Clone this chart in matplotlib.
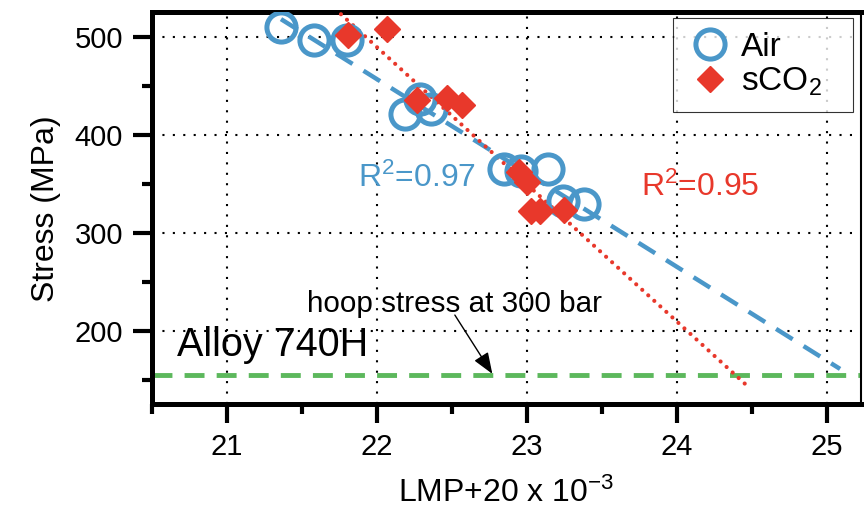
import matplotlib
matplotlib.use("Agg")
import matplotlib.pyplot as plt
import numpy as np

plt.rcParams['font.family'] = ['Liberation Sans', 'DejaVu Sans']
plt.rcParams['mathtext.fontset'] = 'custom'
plt.rcParams['mathtext.rm'] = 'Liberation Sans'
plt.rcParams['mathtext.it'] = 'Liberation Sans:italic'
plt.rcParams['mathtext.bf'] = 'Liberation Sans:bold'

# Data
air_x = [21.36, 21.58, 21.80, 22.19, 22.29, 22.36, 22.85, 22.96, 23.14, 23.24, 23.38]
air_y = [510, 497, 497, 421, 436, 426, 365, 363, 365, 332, 329]
sco2_x = [21.81, 22.07, 22.27, 22.47, 22.57, 22.95, 23.00, 23.03, 23.09, 23.25]
sco2_y = [502, 508, 435, 437, 430, 362, 352, 322, 322, 323]

air_fit_x = [21.36, 25.09]
air_fit_y = [518, 161]
sco2_fit_x = [21.76, 24.49]
sco2_fit_y = [523, 141]

hoop_stress = 155
xticks = [21, 22, 23, 24, 25]
yticks = [200, 300, 400, 500]

blue = '#4a97c9'
red = '#e8382b'
green = '#5cb85c'

fig = plt.figure(figsize=(8.64, 5.11), dpi=100)
ax = fig.add_axes([0.176, 0.209, 0.8206, 0.767])

ax.axhline(hoop_stress, color=green, lw=3.5, ls=(0, (4.1, 2.5)), zorder=2)
ax.plot(air_fit_x, air_fit_y, color=blue, lw=3.2, ls=(0, (4.4, 2.9)), zorder=3)
ax.plot(sco2_fit_x, sco2_fit_y, color=red, lw=3.0, ls=(0, (0.01, 1.95)),
        dash_capstyle='round', zorder=3)

ax.plot(air_x, air_y, 'o', ms=21, mfc='none', mec=blue, mew=3.6, zorder=4, label='Air')
ax.plot(sco2_x, sco2_y, 'D', ms=13.5, color=red, mec=red, zorder=5, label='sCO$_2$')

ax.set_xlim(20.5, 25.23)
ax.set_ylim(125, 525)
ax.set_xticks(xticks)
ax.set_yticks(yticks)
ax.set_xticks([20.5, 21.5, 22.5, 23.5, 24.5], minor=True)
ax.set_yticks([150, 250, 350, 450], minor=True)
ax.grid(True, which='major', color='black', ls=(0, (1, 4)), lw=1.5)

ax.tick_params(axis='both', which='major', direction='out', length=14, width=3,
               labelsize=21, pad=7)
ax.tick_params(axis='both', which='minor', direction='out', length=7, width=3)
ax.tick_params(top=False, right=False, which='both')

for s in ['left', 'bottom', 'top']:
    ax.spines[s].set_linewidth(3.6)
ax.spines['right'].set_linewidth(1.5)

ax.set_xlabel('LMP+20 x 10$^{-3}$', fontsize=23, labelpad=12)
ax.set_ylabel('Stress (MPa)', fontsize=23, labelpad=10)

ax.text(21.873, 346.5, 'R$^2$=0.97', color=blue, fontsize=23, va='baseline', ha='left')
ax.text(23.765, 337.3, 'R$^2$=0.95', color=red, fontsize=23, va='baseline', ha='left')
ax.text(20.667, 174.6, 'Alloy 740H', color='black', fontsize=28.5, va='baseline', ha='left')
ax.text(22.52, 218.6, 'hoop stress at 300 bar', color='black', fontsize=21.3,
        va='baseline', ha='center')
ax.annotate('', xy=(22.77, 156), xytext=(22.52, 216),
            arrowprops=dict(arrowstyle='-|>,head_width=0.5,head_length=1.3',
                            color='black', lw=1, shrinkA=0, shrinkB=0))

leg = ax.legend(loc='upper left', bbox_to_anchor=(0.735, 0.0, 0.2537, 0.9847),
                mode='expand', fontsize=24, frameon=True, fancybox=False,
                edgecolor='black', borderpad=0.4, handletextpad=0.2,
                borderaxespad=0.0, markerscale=1.0, handlelength=1.42,
                labelspacing=0.1)
leg.get_frame().set_linewidth(0.8)

fig.savefig('out.png', dpi=100)
